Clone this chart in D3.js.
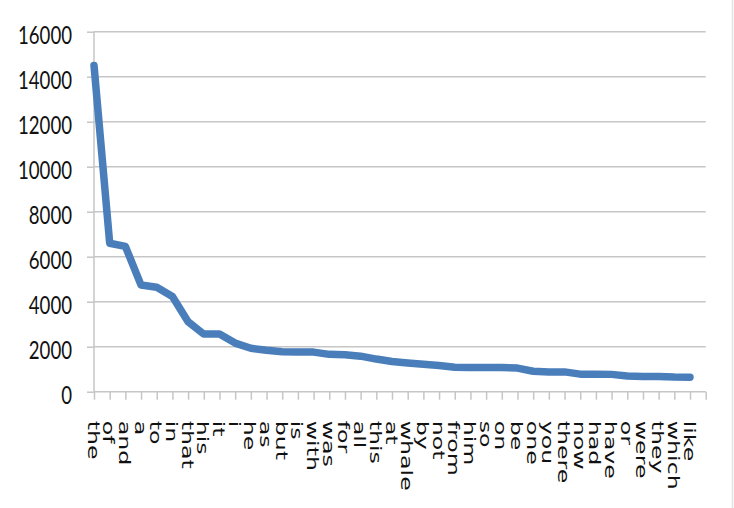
<!DOCTYPE html>
<html>
<head>
<meta charset="utf-8">
<script src="https://cdn.jsdelivr.net/npm/d3@7"></script>
<style>
  html, body { margin: 0; padding: 0; background: #fff; }
  svg { display: block; }
</style>
</head>
<body>
<svg id="chart" width="734" height="508"></svg>
<script>
const words = ["the","of","and","a","to","in","that","his","it","i","he","as","but","is","with","was","for","all","this","at","whale","by","not","from","him","so","on","be","one","you","there","now","had","have","or","were","they","which","like"];
const counts = [14500,6600,6460,4740,4640,4230,3110,2560,2560,2160,1930,1840,1780,1760,1760,1660,1640,1580,1450,1340,1280,1220,1160,1090,1080,1080,1080,1050,910,880,880,780,780,770,700,680,680,650,640];
const yTicks = [0,2000,4000,6000,8000,10000,12000,14000,16000];

(function () {
const svg = d3.select("#chart");
const mLeft = 94, mRight = 705.7, mTop = 31.7, mBottom = 391.7;

// one trailing empty slot, as in the reference axis
const domain = words.map((w, i) => i).concat([words.length]);
const x = d3.scalePoint().domain(domain).range([mLeft, mRight]);
const y = d3.scaleLinear().domain([0, 16000]).range([mBottom, mTop]);

// outer right border
svg.append("line").attr("x1", 732.5).attr("x2", 732.5).attr("y1", 0).attr("y2", 508)
  .attr("stroke", "#e2e2e2").attr("stroke-width", 1.5);

// gridlines
svg.append("g").selectAll("line").data(yTicks.filter(d => d > 0)).join("line")
  .attr("x1", mLeft).attr("x2", mRight)
  .attr("y1", d => y(d)).attr("y2", d => y(d))
  .attr("stroke", "#c6c6c6").attr("stroke-width", 1.5);

// y axis
const yAxis = svg.append("g").attr("transform", `translate(${mLeft},0)`)
  .call(d3.axisLeft(y).tickValues(yTicks).tickSize(7).tickPadding(0).tickFormat(d3.format("d")));
yAxis.select(".domain").attr("stroke", "#c6c6c6").attr("stroke-width", 1.5)
  .attr("d", `M0,${mTop}V${mBottom}`);
yAxis.selectAll(".tick line").attr("stroke", "#c6c6c6").attr("stroke-width", 1.5);
yAxis.selectAll(".tick text")
  .attr("x", null).attr("dy", null)
  .attr("transform", "translate(-22,2) scale(0.98,1.35)")
  .attr("text-anchor", "end")
  .attr("dominant-baseline", "central")
  .attr("font-family", "Lato, 'Open Sans', sans-serif")
  .attr("font-size", 19)
  .attr("fill", "#111");

// x axis
const xAxis = svg.append("g").attr("transform", `translate(0,${mBottom})`)
  .call(d3.axisBottom(x).tickSize(8).tickFormat(i => i < words.length ? words[i] : ""));
xAxis.select(".domain").attr("stroke", "#c6c6c6").attr("stroke-width", 1.5)
  .attr("d", `M${mLeft},0H${mRight}`);
xAxis.selectAll(".tick line").attr("stroke", "#c6c6c6").attr("stroke-width", 1.5);
xAxis.selectAll(".tick text")
  .attr("y", null).attr("dy", null)
  .attr("transform", "translate(-7,29) rotate(90) scale(1.58,1)")
  .attr("text-anchor", "start")
  .attr("font-family", "'DejaVu Sans', sans-serif")
  .attr("font-size", 15)
  .attr("fill", "#111");

// line
const line = d3.line().x((d, i) => x(i)).y(d => y(d));
svg.append("path").datum(counts)
  .attr("d", line)
  .attr("fill", "none")
  .attr("stroke", "#4a7ebb")
  .attr("stroke-width", 7.5)
  .attr("stroke-linejoin", "round")
  .attr("stroke-linecap", "round");
})();
</script>
</body>
</html>
